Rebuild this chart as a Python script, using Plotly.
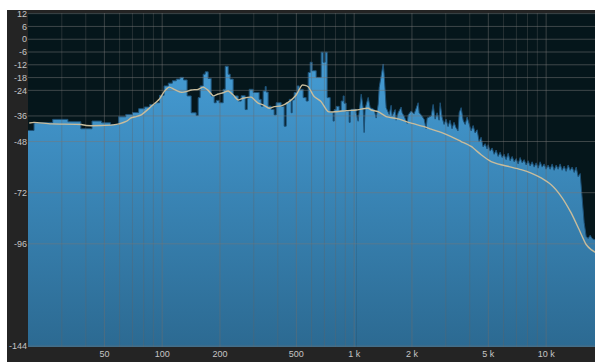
import math
import plotly.graph_objects as go

# ---- axis ticks -------------------------------------------------------------
FREQ_TICKS = [50, 100, 200, 500, 1000, 2000, 5000, 10000]
FREQ_TICK_TEXT = ["50", "100", "200", "500", "1 k", "2 k", "5 k", "10 k"]
MINOR_FREQS = [30, 40, 60, 70, 80, 90, 300, 400, 600, 700, 800, 900,
               3000, 4000, 6000, 7000, 8000, 9000]
DB_TICKS = [12, 6, 0, -6, -12, -18, -24, -36, -48, -72, -96, -144]
DB_TICK_TEXT = ["12", "6", "0", "-6", "-12", "-18", "-24", "-36", "-48", "-72", "-96", "-144"]

# ---- spectrum, low band: FFT bins drawn as steps (start freq Hz, level dB) ----
LOW_FREQ = [
    16.1, 21.5, 26.9, 32.3, 37.7, 43.1, 48.4, 53.8, 59.2, 64.6, 70.0, 75.4,
    80.7, 86.1, 91.5, 96.9, 102.3, 107.6, 113.0, 118.4, 123.8, 129.2, 134.9,
    141.6, 150.3, 154.0, 157.7, 163.5, 167.5, 173.6, 180.0, 186.6, 191.1,
    198.1, 207.8, 212.9, 220.7, 226.1, 234.4, 248.8, 257.9, 270.6, 277.2,
    283.9, 297.9, 320.0, 327.8, 335.7, 343.9, 348.1, 356.5, 369.6, 383.1,
    392.4, 416.7, 432.0, 442.5, 458.7, 469.8, 475.4, 487.0, 504.8, 517.1,
    542.5, 562.3, 576.0, 590.1, 604.3, 634.1, 673.2, 689.6, 706.3, 723.5,
    749.9, 777.3, 786.7, 805.8, 835.4, 855.7, 876.3, 887.0, 908.5, 941.9,
    953.2, 964.7, 1024,
]
LOW_DB = [
    -42.8, -39.2, -37.6, -38.7, -42.0, -38.4, -39.2, -40.0, -36.4, -35.3, -34.4, -32.6,
    -31.8, -30.6, -29.8, -26.3, -21.9, -20.6, -19.5, -18.7, -17.9, -19.1, -26.6,
    -34.5, -35.8, -27.4, -21.9, -16.4, -15.3, -18.4, -26.6, -29.8, -28.7,
    -29.8, -23.5, -12.7, -16.4, -18.7, -26.6, -29.0, -26.5, -33.0, -27.5,
    -23.5, -25.0, -28.2, -31.4, -24.3, -22.2, -24.8, -31.4, -32.9, -35.5,
    -29.8, -31.5, -40.8, -29.7, -28.2, -34.5, -28.5, -25.0, -21.9, -23.5,
    -27.4, -29.0, -15.6, -10.8, -14.8, -17.9, -6.1, -10.8, -6.1, -27.4,
    -34.3, -38.4, -33.0, -31.5, -33.5, -29.0, -26.6, -30.0, -33.7, -39.0,
    -33.5, -32.9, -34.5,
]

# ---- spectrum, high band: dense per-pixel trace (freq Hz, level dB) ----------
HIGH_FREQ = [
    1024, 1049, 1062, 1088, 1114, 1127, 1141, 1183, 1212, 1272, 1302, 1334,
    1350, 1382, 1416, 1433, 1450, 1468, 1522, 1558, 1577, 1635, 1654, 1695,
    1757, 1778, 1821, 1888, 1911, 1981, 2054, 2103, 2154, 2181, 2234, 2315,
    2371, 2400, 2518, 2579, 2641, 2705, 2770, 2805, 2870, 2940, 3011, 3084,
    3158, 3235, 3313, 3393, 3475, 3524, 3609, 3696, 3785, 3878, 3972, 4068,
    4166, 4267, 4370, 4476, 4584, 4695, 4808, 4925, 4988, 5109, 5233, 5361,
    5491, 5623, 5760, 5900, 6043, 6190, 6341, 6494, 6652, 6813, 6979, 7149,
    7322, 7500, 7682, 7869, 8060, 8256, 8456, 8662, 8872, 9088, 9309, 9535,
    9767, 10000, 10240, 10490, 10750, 11010, 11280, 11550, 11830, 12120,
    12410, 12710, 13020, 13340, 13660, 14000, 14340, 14680, 15040, 15400,
    15770, 16160, 16550, 16950, 17360, 17780, 18220,
]
HIGH_DB = [
    -34.5, -38.5, -34.0, -25.8, -32.1, -43.8, -32.5, -27.3, -32.1, -33.0, -37.0, -30.5,
    -22.7, -16.4, -11.6, -16.4, -22.7, -32.1, -35.3, -31.0, -36.0, -33.0, -38.0, -34.5,
    -31.8, -34.5, -36.1, -39.5, -35.5, -33.7, -35.0, -32.0, -29.8, -34.5, -35.5, -37.6,
    -42.0, -37.0, -36.0, -30.6, -37.5, -34.5, -38.0, -29.8, -36.5, -40.0, -37.5, -41.0,
    -38.0, -42.0, -39.0, -41.5, -43.0, -34.5, -32.1, -38.0, -40.0, -36.5, -40.5, -43.0,
    -40.5, -44.0, -42.5, -48.0, -46.0, -50.5, -49.0, -51.5, -49.5, -52.5, -51.0, -54.0,
    -52.0, -55.0, -53.0, -55.5, -54.0, -56.5, -53.5, -57.0, -55.0, -57.5, -56.0, -58.5,
    -55.5, -58.0, -56.5, -59.0, -57.0, -59.5, -57.5, -60.0, -58.0, -60.5, -57.5, -60.0,
    -58.5, -61.0, -59.0, -61.0, -58.5, -61.5, -59.0, -61.0, -58.5, -61.5,
    -59.5, -62.0, -59.0, -61.5, -60.0, -62.5, -60.0, -64.5, -63.0, -74.0,
    -86.0, -92.5, -93.5, -92.0, -93.5, -94.0, -94.0,
]

# ---- smoothed average curve ---------------------------------------------------
AVG_FREQ = [
    20.3, 21.5, 26.4, 37.9, 40.2, 48.1, 55.6, 59.7, 64.9, 68.9, 73.2, 77.8,
    87.6, 96.5, 102.4, 108.8, 115.5, 125.6, 133.4, 141.6, 154.0, 163.5, 173.6,
    184.4, 195.8, 207.8, 220.7, 234.4, 248.8, 264.1, 290.8, 316.2, 335.7,
    360.8, 383.1, 416.7, 458.7, 498.8, 536.1, 576.0, 619.0, 673.2, 732.2,
    805.8, 908.5, 1024, 1183, 1226, 1334, 1468, 1695, 1981, 2315, 2518, 2839,
    3201, 3609, 4068, 4586, 5171, 5829, 6572, 7410, 8354, 9419, 10620, 11970,
    13500, 14850, 16160, 17160, 18220,
]
AVG_DB = [
    -39.3, -39.0, -39.7, -40.0, -40.5, -40.5, -40.2, -39.7, -38.6, -36.9, -36.3, -35.5,
    -31.6, -28.2, -24.6, -22.5, -23.5, -24.9, -24.6, -23.8, -23.5, -22.5, -24.0,
    -26.6, -25.7, -25.1, -24.3, -26.2, -28.5, -27.7, -27.2, -30.0, -30.8,
    -32.4, -31.6, -31.3, -29.3, -26.2, -21.5, -22.3, -26.9, -29.3, -34.0,
    -34.0, -33.5, -33.2, -32.4, -33.2, -34.0, -36.3, -37.4, -39.4, -41.0, -42.2, -43.7,
    -45.7, -48.0, -50.3, -54.2, -57.4, -58.9, -60.0, -61.2, -62.8, -65.1, -68.3, -73.7,
    -81.5, -89.3, -96.3, -98.7, -100.2,
]

X_MIN, X_MAX = 20, 17970
Y_MIN, Y_MAX = -144.4, 12.3
FLOOR_DB = -150

BAR_LINE = dict(color="#1d5075", width=1)
BAR_GRADIENT = dict(type="vertical", start=-144, stop=-20,
                    colorscale=[[0, "#2c6a92"], [1, "#4398cf"]])

fig = go.Figure()


def add_band(freqs, levels, shape):
    # invisible floor, then the band filled down to it
    fig.add_trace(go.Scatter(
        x=[freqs[0], freqs[-1]], y=[FLOOR_DB, FLOOR_DB], mode="lines",
        line=dict(width=0), hoverinfo="skip", showlegend=False,
    ))
    fig.add_trace(go.Scatter(
        x=freqs, y=levels, mode="lines", line_shape=shape, line=BAR_LINE,
        fill="tonexty", fillgradient=BAR_GRADIENT, showlegend=False,
    ))


add_band(LOW_FREQ, LOW_DB, "hv")
add_band(HIGH_FREQ, HIGH_DB, "linear")


# grid drawn over the spectrum
def vlines(freqs):
    xs, ys = [], []
    for f in freqs:
        xs += [f, f, None]
        ys += [FLOOR_DB, 20, None]
    return xs, ys


def hlines(levels):
    xs, ys = [], []
    for v in levels:
        xs += [10, 30000, None]
        ys += [v, v, None]
    return xs, ys


mx, my = vlines(MINOR_FREQS)
fig.add_trace(go.Scatter(x=mx, y=my, mode="lines",
                         line=dict(color="rgba(100,100,100,0.35)", width=1),
                         hoverinfo="skip", showlegend=False))
jx, jy = vlines(FREQ_TICKS)
fig.add_trace(go.Scatter(x=jx, y=jy, mode="lines",
                         line=dict(color="rgba(110,110,110,0.5)", width=1),
                         hoverinfo="skip", showlegend=False))
hx, hy = hlines(DB_TICKS)
fig.add_trace(go.Scatter(x=hx, y=hy, mode="lines",
                         line=dict(color="rgba(120,120,120,0.5)", width=1),
                         hoverinfo="skip", showlegend=False))

# average curve
fig.add_trace(go.Scatter(
    x=AVG_FREQ, y=AVG_DB, mode="lines", line_shape="spline",
    line=dict(color="#c8bc9c", width=1.4, smoothing=0.6),
    showlegend=False,
))

W, H = 595, 362
L, R, T, B = 28, 0, 13, 15
pw, ph = W - L - R, H - T - B


def px_x(p):
    return (p - L) / pw


def px_y(p):
    return (H - B - p) / ph


fig.update_layout(
    width=W, height=H, autosize=False,
    margin=dict(l=L, r=R, t=T, b=B, pad=0),
    paper_bgcolor="#242424",
    plot_bgcolor="#05161b",
    showlegend=False,
    font=dict(family="Liberation Sans, Arial, sans-serif", size=9, color="#c4c4c4"),
    xaxis=dict(
        type="log", range=[math.log10(X_MIN), math.log10(X_MAX)],
        tickvals=FREQ_TICKS, ticktext=FREQ_TICK_TEXT,
        showgrid=False, zeroline=False, showline=False, ticks="",
        tickfont=dict(size=9, color="#c4c4c4"),
    ),
    yaxis=dict(
        range=[Y_MIN, Y_MAX],
        tickvals=DB_TICKS, ticktext=DB_TICK_TEXT,
        showgrid=False, zeroline=False, showline=False, ticks="",
        tickfont=dict(size=9, color="#c4c4c4"),
    ),
    shapes=[
        dict(type="rect", xref="paper", yref="paper", layer="above",
             x0=px_x(0), x1=px_x(7), y0=px_y(H), y1=px_y(0),
             fillcolor="white", line=dict(width=0)),
        dict(type="rect", xref="paper", yref="paper", layer="above",
             x0=px_x(0), x1=px_x(W), y0=px_y(10), y1=px_y(0),
             fillcolor="white", line=dict(width=0)),
    ],
)

fig.write_html("out.html")
